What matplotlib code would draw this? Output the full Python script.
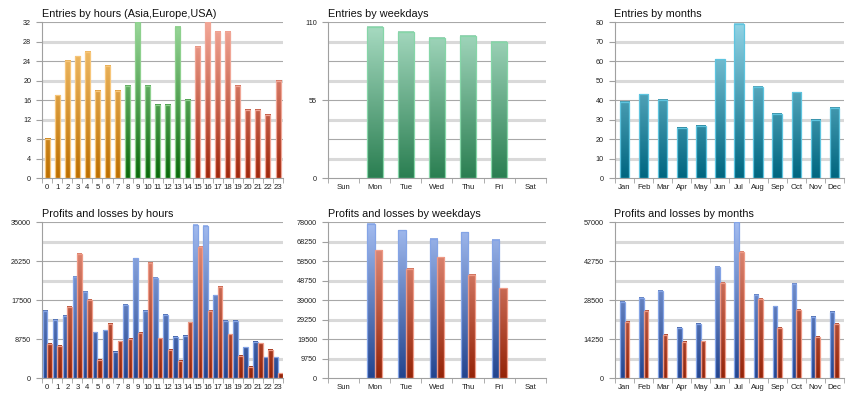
import numpy as np
import matplotlib
matplotlib.use('Agg')
import matplotlib.pyplot as plt
from matplotlib.colors import LinearSegmentedColormap

plt.rcParams['font.family'] = ['Liberation Sans', 'DejaVu Sans']

# data
hours = [str(h) for h in range(24)]
hour_session = ['Asia'] * 8 + ['Europe'] * 7 + ['USA'] * 9
entries_hours = [8, 17, 24, 25, 26, 18, 23, 18, 19, 32, 19, 15, 15, 31, 16,
                 27, 32, 30, 30, 19, 14, 14, 13, 20]

weekdays = ['Sun', 'Mon', 'Tue', 'Wed', 'Thu', 'Fri', 'Sat']
entries_weekdays = [0, 107, 103, 99, 100.5, 96, 0]

months = ['Jan', 'Feb', 'Mar', 'Apr', 'May', 'Jun', 'Jul', 'Aug', 'Sep',
          'Oct', 'Nov', 'Dec']
entries_months = [39, 43, 40, 26, 27, 61, 79, 47, 33, 44, 30, 36]

profit_hours = [15100, 13100, 14050, 22800, 19450, 10300, 10750, 5850, 16500,
                26900, 15200, 22500, 14200, 9350, 9500, 34500, 34250, 18600,
                12850, 12850, 6950, 8150, 4700, 4700]
loss_hours = [7650, 7250, 16000, 27900, 17550, 4100, 12250, 8300, 8800,
              10250, 25950, 8950, 6350, 3900, 12550, 29450, 15100, 20550,
              9850, 5000, 2600, 7850, 6450, 1100]

profit_weekdays = [0, 77200, 74000, 69700, 73000, 69200, 0]
loss_weekdays = [0, 64000, 54700, 60500, 51800, 45000, 0]

profit_months = [27900, 29500, 31900, 18500, 19850, 40700, 57000, 30550,
                 26300, 34450, 22300, 24350]
loss_months = [20600, 24500, 15950, 13300, 13500, 34950, 46150, 29000,
               18400, 24950, 15000, 19750]

# colour ramps: dark at the bottom, light at the top
def ramp(dark, light):
    return LinearSegmentedColormap.from_list('r', [dark, light])

cm_asia = ramp('#bd6f00', '#f8c878')
cm_europe = ramp('#0b690b', '#9ad89a')
cm_usa = ramp('#a0270c', '#f4a898')
cm_week = ramp('#2b7f52', '#a9dcc3')
cm_month = ramp('#006680', '#92d4e6')
cm_blue = ramp('#23458f', '#a3bcf0')
cm_red = ramp('#952408', '#ec9a88')

session_cmap = {'Asia': cm_asia, 'Europe': cm_europe, 'USA': cm_usa}
session_edge = {'Asia': '#f7c67a', 'Europe': '#8ed08e', 'USA': '#f0a696'}


def grad_bars(ax, xs, hs, w, cmaps, edges, ymax):
    for x, h, cm, ec in zip(xs, hs, cmaps, edges):
        if h <= 0:
            continue
        g = np.linspace(h / ymax, 0, 64).reshape(-1, 1)
        ax.imshow(g, extent=(x - w / 2, x + w / 2, 0, h), cmap=cm, vmin=0,
                  vmax=1, aspect='auto', origin='upper', zorder=2,
                  interpolation='bilinear')
        ax.bar(x, h, w, color='none', edgecolor=ec, linewidth=0.9, zorder=3)


def setup(ax, title, labels, ymax, dark_step, yticks, fmt):
    n = len(labels)
    # gridlines: labelled ones darker, in-between ones light and thicker
    half = dark_step / 2
    k = 1
    while k * half <= ymax + 1e-9:
        if k % 2 == 0:
            ax.axhline(k * half, color='#a8a8a8', lw=0.8, zorder=1)
        else:
            ax.axhline(k * half, color='#d9d9d9', lw=2.2, zorder=0.9)
        k += 1
    ax.set_xlim(-0.5, n - 0.5)
    ax.set_ylim(0, ymax)
    ax.set_xticks(range(n))
    ax.set_xticklabels(labels, fontsize=5.6, color='#202020')
    ax.set_xticks(np.arange(n + 1) - 0.5, minor=True)
    ax.tick_params(axis='x', which='major', length=0, pad=4)
    ax.tick_params(axis='x', which='minor', length=3.5, color='#a0a0a0')
    ax.set_yticks(yticks)
    ax.set_yticklabels([fmt(v) for v in yticks], fontsize=5.2, color='#202020')
    ax.tick_params(axis='y', length=4, color='#a0a0a0', pad=4)
    for s in ('top', 'right'):
        ax.spines[s].set_visible(False)
    for s in ('left', 'bottom'):
        ax.spines[s].set_color('#a0a0a0')
        ax.spines[s].set_linewidth(0.8)
    ax.set_title(title, loc='left', fontsize=7.8, pad=4, color='#101010', x=-0.003)


fig = plt.figure(figsize=(8.6, 4.0), dpi=100)
fig.patch.set_facecolor('white')

cols = [(0.0492, 0.2799), (0.3817, 0.2528), (0.7151, 0.2663)]
rows = [0.5543, 0.0543]
h_ax = 0.39

ax1 = fig.add_axes([cols[0][0], rows[0], cols[0][1], h_ax])
ax2 = fig.add_axes([cols[1][0], rows[0], cols[1][1], h_ax])
ax3 = fig.add_axes([cols[2][0], rows[0], cols[2][1], h_ax])
ax4 = fig.add_axes([cols[0][0], rows[1], cols[0][1], h_ax])
ax5 = fig.add_axes([cols[1][0], rows[1], cols[1][1], h_ax])
ax6 = fig.add_axes([cols[2][0], rows[1], cols[2][1], h_ax])

intfmt = lambda v: '%d' % v

# Entries by hours
x = np.arange(len(hours))
grad_bars(ax1, x, entries_hours, 0.5, [session_cmap[s] for s in hour_session],
          [session_edge[s] for s in hour_session], 32)
setup(ax1, 'Entries by hours (Asia,Europe,USA)', hours, 32, 8,
      list(range(0, 33, 4)), intfmt)

# Entries by weekdays
x = np.arange(len(weekdays))
grad_bars(ax2, x, entries_weekdays, 0.5, [cm_week] * 7, ['#86d6a8'] * 7, 110)
setup(ax2, 'Entries by weekdays', weekdays, 110, 27.5, [0, 55, 110], intfmt)

# Entries by months
x = np.arange(len(months))
grad_bars(ax3, x, entries_months, 0.5, [cm_month] * 12, ['#5ec4df'] * 12, 80)
setup(ax3, 'Entries by months', months, 80, 20, list(range(0, 81, 10)), intfmt)

# Profits and losses by hours
x = np.arange(len(hours))
w = 0.46
grad_bars(ax4, x - w / 2, profit_hours, w, [cm_blue] * 24, ['#84a4e6'] * 24, 35000)
grad_bars(ax4, x + w / 2, loss_hours, w, [cm_red] * 24, ['#ee9a86'] * 24, 35000)
setup(ax4, 'Profits and losses by hours', hours, 35000, 8750,
      [0, 8750, 17500, 26250, 35000], intfmt)

# Profits and losses by weekdays
x = np.arange(len(weekdays))
w = 0.24
grad_bars(ax5, x - w / 2, profit_weekdays, w, [cm_blue] * 7, ['#84a4e6'] * 7, 78000)
grad_bars(ax5, x + w / 2, loss_weekdays, w, [cm_red] * 7, ['#ee9a86'] * 7, 78000)
setup(ax5, 'Profits and losses by weekdays', weekdays, 78000, 19500,
      list(range(0, 78001, 9750)), intfmt)

# Profits and losses by months
x = np.arange(len(months))
w = 0.24
grad_bars(ax6, x - w / 2, profit_months, w, [cm_blue] * 12, ['#84a4e6'] * 12, 57000)
grad_bars(ax6, x + w / 2, loss_months, w, [cm_red] * 12, ['#ee9a86'] * 12, 57000)
setup(ax6, 'Profits and losses by months', months, 57000, 14250,
      [0, 14250, 28500, 42750, 57000], intfmt)

plt.savefig('out.png', dpi=100)
